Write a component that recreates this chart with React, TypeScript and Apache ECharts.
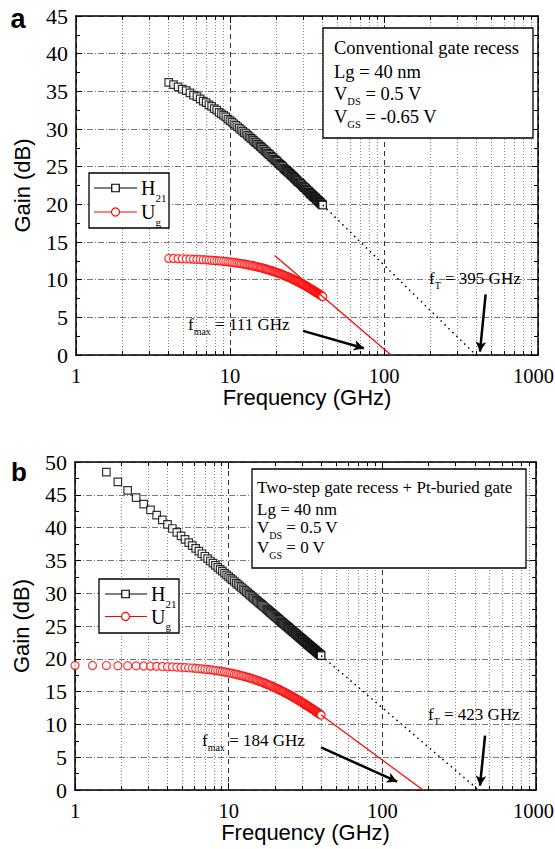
import React, { useEffect, useRef } from 'react';
import * as echarts from 'echarts';

const SERIF = "'Liberation Serif', 'Times New Roman', Times, serif";
const SANS = "'Liberation Sans', Arial, Helvetica, sans-serif";

// ---- data: panel a (conventional gate recess) ----
const FREQ_A = [
  4.0, 4.3, 4.6, 4.9, 5.2, 5.5, 5.8, 6.1, 6.4, 6.7,
  7.0, 7.3, 7.6, 7.9, 8.2, 8.5, 8.8, 9.1, 9.4, 9.7,
  10.0, 10.3, 10.6, 10.9, 11.2, 11.5, 11.8, 12.1, 12.4, 12.7,
  13.0, 13.3, 13.6, 13.9, 14.2, 14.5, 14.8, 15.1, 15.4, 15.7,
  16.0, 16.3, 16.6, 16.9, 17.2, 17.5, 17.8, 18.1, 18.4, 18.7,
  19.0, 19.3, 19.6, 19.9, 20.2, 20.5, 20.8, 21.1, 21.4, 21.7,
  22.0, 22.3, 22.6, 22.9, 23.2, 23.5, 23.8, 24.1, 24.4, 24.7,
  25.0, 25.3, 25.6, 25.9, 26.2, 26.5, 26.8, 27.1, 27.4, 27.7,
  28.0, 28.3, 28.6, 28.9, 29.2, 29.5, 29.8, 30.1, 30.4, 30.7,
  31.0, 31.3, 31.6, 31.9, 32.2, 32.5, 32.8, 33.1, 33.4, 33.7,
  34.0, 34.3, 34.6, 34.9, 35.2, 35.5, 35.8, 36.1, 36.4, 36.7,
  37.0, 37.3, 37.6, 37.9, 38.2, 38.5, 38.8, 39.1, 39.4, 39.7,
  40.0,
];
const H21_A = [
  36.2, 35.9, 35.6, 35.3, 35.1, 34.8, 34.5, 34.3, 34.0, 33.7,
  33.5, 33.2, 33.0, 32.7, 32.5, 32.2, 32.0, 31.8, 31.6, 31.3,
  31.1, 30.9, 30.7, 30.5, 30.3, 30.1, 29.9, 29.7, 29.5, 29.4,
  29.2, 29.0, 28.8, 28.7, 28.5, 28.3, 28.2, 28.0, 27.9, 27.7,
  27.6, 27.4, 27.3, 27.1, 27.0, 26.8, 26.7, 26.6, 26.4, 26.3,
  26.2, 26.0, 25.9, 25.8, 25.7, 25.5, 25.4, 25.3, 25.2, 25.1,
  25.0, 24.8, 24.7, 24.6, 24.5, 24.4, 24.3, 24.2, 24.1, 24.0,
  23.9, 23.8, 23.7, 23.6, 23.5, 23.4, 23.3, 23.2, 23.1, 23.0,
  22.9, 22.9, 22.8, 22.7, 22.6, 22.5, 22.4, 22.3, 22.2, 22.2,
  22.1, 22.0, 21.9, 21.8, 21.8, 21.7, 21.6, 21.5, 21.4, 21.4,
  21.3, 21.2, 21.1, 21.1, 21.0, 20.9, 20.9, 20.8, 20.7, 20.6,
  20.6, 20.5, 20.4, 20.4, 20.3, 20.2, 20.2, 20.1, 20.0, 20.0,
  19.9,
];
const UG_A = [
  12.82, 12.81, 12.79, 12.77, 12.76, 12.74, 12.72, 12.70, 12.67, 12.65,
  12.63, 12.60, 12.58, 12.55, 12.52, 12.50, 12.47, 12.44, 12.41, 12.37,
  12.34, 12.31, 12.28, 12.24, 12.21, 12.17, 12.13, 12.10, 12.06, 12.02,
  11.98, 11.94, 11.91, 11.87, 11.82, 11.78, 11.74, 11.70, 11.66, 11.61,
  11.57, 11.53, 11.48, 11.44, 11.39, 11.35, 11.30, 11.26, 11.21, 11.16,
  11.12, 11.07, 11.02, 10.98, 10.93, 10.88, 10.84, 10.79, 10.74, 10.69,
  10.64, 10.60, 10.55, 10.50, 10.45, 10.40, 10.36, 10.31, 10.26, 10.21,
  10.16, 10.11, 10.06, 10.01, 9.96, 9.91, 9.86, 9.81, 9.76, 9.71,
  9.66, 9.62, 9.57, 9.52, 9.47, 9.42, 9.37, 9.32, 9.27, 9.22,
  9.18, 9.13, 9.08, 9.03, 8.98, 8.93, 8.89, 8.84, 8.79, 8.74,
  8.69, 8.65, 8.60, 8.55, 8.50, 8.46, 8.41, 8.36, 8.32, 8.27,
  8.22, 8.18, 8.13, 8.08, 8.04, 7.99, 7.95, 7.90, 7.85, 7.81,
  7.76,
];

// ---- data: panel b (two-step gate recess + Pt-buried gate) ----
const FREQ_B = [
  1.0, 1.3, 1.6, 1.9, 2.2, 2.5, 2.8, 3.1, 3.4, 3.7,
  4.0, 4.3, 4.6, 4.9, 5.2, 5.5, 5.8, 6.1, 6.4, 6.7,
  7.0, 7.3, 7.6, 7.9, 8.2, 8.5, 8.8, 9.1, 9.4, 9.7,
  10.0, 10.3, 10.6, 10.9, 11.2, 11.5, 11.8, 12.1, 12.4, 12.7,
  13.0, 13.3, 13.6, 13.9, 14.2, 14.5, 14.8, 15.1, 15.4, 15.7,
  16.0, 16.3, 16.6, 16.9, 17.2, 17.5, 17.8, 18.1, 18.4, 18.7,
  19.0, 19.3, 19.6, 19.9, 20.2, 20.5, 20.8, 21.1, 21.4, 21.7,
  22.0, 22.3, 22.6, 22.9, 23.2, 23.5, 23.8, 24.1, 24.4, 24.7,
  25.0, 25.3, 25.6, 25.9, 26.2, 26.5, 26.8, 27.1, 27.4, 27.7,
  28.0, 28.3, 28.6, 28.9, 29.2, 29.5, 29.8, 30.1, 30.4, 30.7,
  31.0, 31.3, 31.6, 31.9, 32.2, 32.5, 32.8, 33.1, 33.4, 33.7,
  34.0, 34.3, 34.6, 34.9, 35.2, 35.5, 35.8, 36.1, 36.4, 36.7,
  37.0, 37.3, 37.6, 37.9, 38.2, 38.5, 38.8, 39.1, 39.4, 39.7,
  40.0,
];
const H21_B = [
  52.53, 50.25, 48.45, 46.96, 45.68, 44.57, 43.59, 42.70, 41.90, 41.17,
  40.49, 39.86, 39.28, 38.73, 38.21, 37.72, 37.26, 36.82, 36.41, 36.01,
  35.63, 35.26, 34.91, 34.58, 34.25, 33.94, 33.64, 33.35, 33.07, 32.80,
  32.53, 32.27, 32.02, 31.78, 31.55, 31.32, 31.09, 30.87, 30.66, 30.45,
  30.25, 30.05, 29.86, 29.67, 29.48, 29.30, 29.13, 28.95, 28.78, 28.61,
  28.45, 28.29, 28.13, 27.97, 27.82, 27.67, 27.52, 27.38, 27.23, 27.09,
  26.96, 26.82, 26.69, 26.55, 26.42, 26.30, 26.17, 26.04, 25.92, 25.80,
  25.68, 25.56, 25.45, 25.33, 25.22, 25.11, 25.00, 24.89, 24.78, 24.68,
  24.57, 24.47, 24.37, 24.26, 24.16, 24.07, 23.97, 23.87, 23.78, 23.68,
  23.59, 23.49, 23.40, 23.31, 23.22, 23.13, 23.05, 22.96, 22.87, 22.79,
  22.70, 22.62, 22.54, 22.46, 22.37, 22.29, 22.21, 22.13, 22.06, 21.98,
  21.90, 21.82, 21.75, 21.67, 21.60, 21.53, 21.45, 21.38, 21.31, 21.24,
  21.17, 21.10, 21.03, 20.96, 20.89, 20.82, 20.75, 20.69, 20.62, 20.55,
  20.49,
];
const UG_B = [
  18.99, 18.98, 18.97, 18.95, 18.94, 18.92, 18.90, 18.88, 18.85, 18.83,
  18.80, 18.77, 18.74, 18.70, 18.67, 18.63, 18.59, 18.55, 18.50, 18.46,
  18.41, 18.37, 18.32, 18.27, 18.21, 18.16, 18.11, 18.05, 17.99, 17.94,
  17.88, 17.82, 17.76, 17.69, 17.63, 17.57, 17.50, 17.44, 17.37, 17.31,
  17.24, 17.17, 17.11, 17.04, 16.97, 16.90, 16.83, 16.76, 16.69, 16.62,
  16.55, 16.48, 16.41, 16.34, 16.27, 16.20, 16.13, 16.06, 15.99, 15.92,
  15.85, 15.78, 15.71, 15.64, 15.57, 15.50, 15.42, 15.35, 15.28, 15.21,
  15.14, 15.07, 15.01, 14.94, 14.87, 14.80, 14.73, 14.66, 14.59, 14.53,
  14.46, 14.39, 14.32, 14.26, 14.19, 14.12, 14.06, 13.99, 13.92, 13.86,
  13.79, 13.73, 13.66, 13.60, 13.54, 13.47, 13.41, 13.35, 13.28, 13.22,
  13.16, 13.10, 13.03, 12.97, 12.91, 12.85, 12.79, 12.73, 12.67, 12.61,
  12.55, 12.49, 12.43, 12.37, 12.32, 12.26, 12.20, 12.14, 12.09, 12.03,
  11.97, 11.92, 11.86, 11.80, 11.75, 11.69, 11.64, 11.58, 11.53, 11.48,
  11.42,
];

// ---- axes ----
const X_MIN = 1;
const X_MAX = 1000;
const Y_MAX_A = 45;
const Y_MAX_B = 50;
const Y_STEP = 5;

// ---- extrapolation lines & arrows (data coordinates) ----
const FT_A = 395;
const FMAX_A = 111;
const FT_B = 423;
const FMAX_B = 184;
const H21_EXTRAP_A = [[40, 19.9], [FT_A, 0]];
const UG_EXTRAP_A = [[19.5, 13.2], [FMAX_A, 0]];
const H21_EXTRAP_B = [[40, 20.49], [FT_B, 0]];
const UG_EXTRAP_B = [[40, 11.42], [FMAX_B, 0]];
const ARROWS_A = [
  [[29.8, 3.2], [74, 0.9]],
  [[457, 8.06], [420, 0.44]],
];
const ARROWS_B = [
  [[39.9, 6.5], [124.8, 1.27]],
  [[466, 8.28], [432, 0.66]],
];

// ---- texts ----
const BOX_A_LINES = [
  ['Conventional gate recess'],
  ['Lg = 40 nm'],
  ['V', 'DS', ' = 0.5 V'],
  ['V', 'GS', ' = -0.65 V'],
];
const BOX_B_LINES = [
  ['Two-step gate recess + Pt-buried gate'],
  ['Lg = 40 nm'],
  ['V', 'DS', ' = 0.5 V'],
  ['V', 'GS', ' = 0 V'],
];
const LEGEND_H21 = ['H', '21'];
const LEGEND_UG = ['U', 'g'];
const FMAX_A_TEXT = ['f', 'max', ` = ${FMAX_A} GHz`];
const FT_A_TEXT = ['f', 'T', ` = ${FT_A} GHz`];
const FMAX_B_TEXT = ['f', 'max', ` = ${FMAX_B} GHz`];
const FT_B_TEXT = ['f', 'T', ` = ${FT_B} GHz`];

const richStr = (parts: string[]) =>
  parts.map((p, i) => (p ? `{${i % 2 ? 's' : 'm'}|${p}}` : '')).join('');

const richText = (x: number, y: number, parts: string[], size: number, sub: number) => ({
  type: 'text',
  x,
  y,
  z: 100,
  style: {
    text: richStr(parts),
    align: 'left',
    verticalAlign: 'middle',
    fill: '#000',
    rich: {
      m: { fontFamily: SERIF, fontSize: size, lineHeight: size * 1.5, fill: '#000' },
      s: { fontFamily: SERIF, fontSize: sub, lineHeight: sub * 1.1, verticalAlign: 'bottom', fill: '#000' },
    },
  },
});

const makeX = (grid: number, top: boolean, maxPad: number) => ({
  type: 'log',
  logBase: 10,
  min: X_MIN,
  max: X_MAX,
  gridIndex: grid,
  position: top ? 'top' : 'bottom',
  axisLine: { show: true, onZero: false, lineStyle: { color: '#000', width: 1.5 } },
  axisTick: { show: true, inside: true, length: 7, lineStyle: { color: '#000', width: 1 } },
  minorTick: { show: true, splitNumber: 9, length: 4, lineStyle: { color: '#000', width: 1 } },
  axisLabel: top
    ? { show: false }
    : {
        show: true,
        color: '#000',
        fontFamily: SERIF,
        fontSize: 20.5,
        margin: 10,
        formatter: (v: number) => (v === X_MAX ? `{e|${v}}` : String(v)),
        rich: { e: { fontFamily: SERIF, fontSize: 20.5, color: '#000', padding: [0, maxPad, 0, 0] } },
      },
  splitLine: top ? { show: false } : { show: true, lineStyle: { color: '#333', width: 1, type: [5, 4] } },
  minorSplitLine: top ? { show: false } : { show: true, lineStyle: { color: '#888', width: 1, type: [1, 2] } },
  name: top ? '' : 'Frequency (GHz)',
  nameLocation: 'middle',
  nameGap: 30,
  nameTextStyle: { fontFamily: SANS, fontSize: 22, color: '#000' },
});

const makeY = (grid: number, right: boolean, max: number) => ({
  type: 'value',
  min: 0,
  max,
  interval: Y_STEP,
  gridIndex: grid,
  position: right ? 'right' : 'left',
  axisLine: { show: true, onZero: false, lineStyle: { color: '#000', width: 1.5 } },
  axisTick: { show: true, inside: true, length: 6, lineStyle: { color: '#000', width: 1 } },
  minorTick: { show: true, splitNumber: 2, length: 4, lineStyle: { color: '#000', width: 1 } },
  axisLabel: right
    ? { show: false }
    : { show: true, color: '#000', fontFamily: SERIF, fontSize: 22, margin: 8 },
  splitLine: right ? { show: false } : { show: true, lineStyle: { color: '#777', width: 1, type: [6, 2, 1, 2] } },
  name: right ? '' : 'Gain (dB)',
  nameLocation: 'middle',
  nameGap: 43,
  nameTextStyle: { fontFamily: SANS, fontSize: 22, color: '#000' },
});

const arrowMarks = (arrows: number[][][]) => ({
  silent: true,
  symbol: ['none', 'arrow'],
  symbolSize: [8, 10],
  label: { show: false },
  lineStyle: { color: '#000', width: 2.5, type: 'solid' },
  data: arrows.map((a) => [{ coord: a[0] }, { coord: a[1] }]),
});

const panelSeries = (
  xi: number,
  yi: number,
  freq: number[],
  h21: number[],
  ug: number[],
  h21Ext: number[][],
  ugExt: number[][],
  arrows: number[][][]
) => [
  {
    type: 'line',
    xAxisIndex: xi,
    yAxisIndex: yi,
    data: h21Ext,
    symbol: 'none',
    silent: true,
    lineStyle: { color: '#000', width: 1.5, type: [1.5, 4] },
    markLine: arrowMarks(arrows),
  },
  {
    type: 'line',
    xAxisIndex: xi,
    yAxisIndex: yi,
    data: ugExt,
    symbol: 'none',
    silent: true,
    lineStyle: { color: '#ff0000', width: 1.2 },
  },
  {
    type: 'scatter',
    name: 'Ug',
    xAxisIndex: xi,
    yAxisIndex: yi,
    data: freq.map((f, i) => [f, ug[i]]),
    symbol: 'circle',
    symbolSize: 8,
    itemStyle: { color: '#fff', borderColor: '#ff0000', borderWidth: 1.2 },
  },
  {
    type: 'scatter',
    name: 'H21',
    xAxisIndex: xi,
    yAxisIndex: yi,
    data: freq.map((f, i) => [f, h21[i]]),
    symbol: 'rect',
    symbolSize: 7.5,
    itemStyle: { color: '#fff', borderColor: '#000', borderWidth: 1.2 },
  },
];

const legendGraphic = (bx: number, by: number, bw: number, bh: number, lx1: number, lx2: number, mx: number, tx: number, y1: number, y2: number) => [
  { type: 'rect', z: 100, shape: { x: bx, y: by, width: bw, height: bh }, style: { fill: '#fff', stroke: '#000', lineWidth: 1.3 } },
  { type: 'line', z: 101, shape: { x1: lx1, y1, x2: lx2, y2: y1 }, style: { stroke: '#000', lineWidth: 1 } },
  { type: 'rect', z: 102, shape: { x: mx - 3.75, y: y1 - 3.75, width: 7.5, height: 7.5 }, style: { fill: '#fff', stroke: '#000', lineWidth: 1.2 } },
  { ...richText(tx, y1, LEGEND_H21, 20, 11), z: 102 },
  { type: 'line', z: 101, shape: { x1: lx1, y1: y2, x2: lx2, y2 }, style: { stroke: '#ff0000', lineWidth: 1 } },
  { type: 'circle', z: 102, shape: { cx: mx, cy: y2, r: 4 }, style: { fill: '#fff', stroke: '#ff0000', lineWidth: 1.2 } },
  { ...richText(tx, y2, LEGEND_UG, 20, 11), z: 102 },
];

const boxGraphic = (bx: number, by: number, bw: number, bh: number, tx: number, ys: number[], lines: string[][], size: number, sub: number) => [
  { type: 'rect', z: 100, shape: { x: bx, y: by, width: bw, height: bh }, style: { fill: '#fff', stroke: '#000', lineWidth: 1.3 } },
  ...lines.map((l, i) => ({ ...richText(tx, ys[i], l, size, sub), z: 101 })),
];

const App: React.FC = () => {
  const ref = useRef<HTMLDivElement>(null);
  useEffect(() => {
    if (!ref.current) return;
    const chart = echarts.init(ref.current, undefined, { renderer: 'svg' });
    const option: any = {
      animation: false,
      backgroundColor: '#fff',
      grid: [
        { left: 76, top: 16, width: 462, height: 339, containLabel: false, outerBoundsMode: 'none' },
        { left: 75, top: 462, width: 461, height: 328, containLabel: false, outerBoundsMode: 'none' },
      ],
      xAxis: [makeX(0, false, 9), makeX(0, true, 0), makeX(1, false, 5), makeX(1, true, 0)],
      yAxis: [makeY(0, false, Y_MAX_A), makeY(0, true, Y_MAX_A), makeY(1, false, Y_MAX_B), makeY(1, true, Y_MAX_B)],
      series: [
        ...panelSeries(0, 0, FREQ_A, H21_A, UG_A, H21_EXTRAP_A, UG_EXTRAP_A, ARROWS_A),
        ...panelSeries(2, 2, FREQ_B, H21_B, UG_B, H21_EXTRAP_B, UG_EXTRAP_B, ARROWS_B),
      ],
      graphic: [
        { type: 'text', x: 18, y: 19, z: 100, style: { text: 'a', fontFamily: SANS, fontWeight: 'bold', fontSize: 27, fill: '#000', align: 'center', verticalAlign: 'middle' } },
        { type: 'text', x: 19, y: 472, z: 100, style: { text: 'b', fontFamily: SANS, fontWeight: 'bold', fontSize: 26, fill: '#000', align: 'center', verticalAlign: 'middle' } },
        ...boxGraphic(323, 28, 210, 110, 334, [48, 71.5, 93.5, 116.5], BOX_A_LINES, 18.5, 10.5),
        ...boxGraphic(252, 469, 274, 99, 257, [487.5, 509, 527.5, 547.5], BOX_B_LINES, 17, 10),
        ...legendGraphic(89, 173, 80, 55, 94, 137, 115.5, 141, 188, 212),
        ...legendGraphic(99, 579, 80, 54, 105, 147, 125.5, 151, 594, 616.5),
        richText(188, 324, FMAX_A_TEXT, 17, 10),
        richText(429, 278, FT_A_TEXT, 17, 10),
        richText(202, 740, FMAX_B_TEXT, 17, 10),
        richText(428, 714, FT_B_TEXT, 17, 10),
      ],
    };
    chart.setOption(option);
    return () => chart.dispose();
  }, []);
  return <div ref={ref} style={{ position: 'absolute', left: 0, top: 0, width: 555, height: 849 }} />;
};

export default App;
